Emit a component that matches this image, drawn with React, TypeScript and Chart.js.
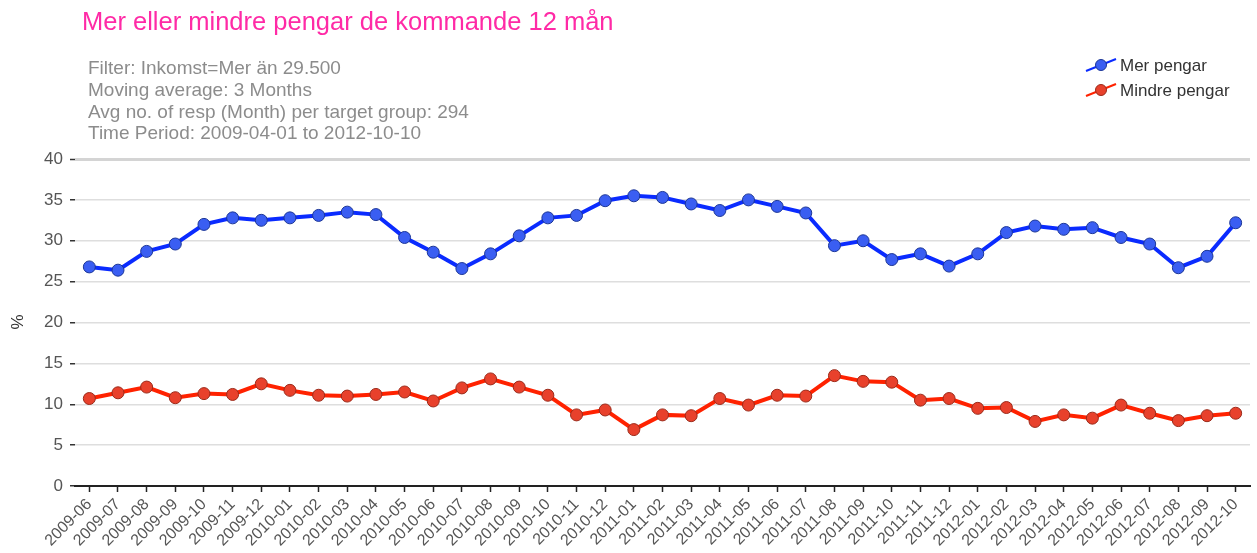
import React, { useEffect, useRef } from "react";
import { Chart, registerables } from "chart.js";

Chart.register(...registerables);

const months = [
  "2009-06", "2009-07", "2009-08", "2009-09", "2009-10", "2009-11", "2009-12",
  "2010-01", "2010-02", "2010-03", "2010-04", "2010-05", "2010-06", "2010-07",
  "2010-08", "2010-09", "2010-10", "2010-11", "2010-12",
  "2011-01", "2011-02", "2011-03", "2011-04", "2011-05", "2011-06", "2011-07",
  "2011-08", "2011-09", "2011-10", "2011-11", "2011-12",
  "2012-01", "2012-02", "2012-03", "2012-04", "2012-05", "2012-06", "2012-07",
  "2012-08", "2012-09", "2012-10",
];

const merPengar = [
  26.8, 26.4, 28.7, 29.6, 32.0, 32.8, 32.5, 32.8, 33.1, 33.5, 33.2, 30.4,
  28.6, 26.6, 28.4, 30.6, 32.8, 33.1, 34.9, 35.5, 35.3, 34.5, 33.7, 35.0,
  34.2, 33.4, 29.4, 30.0, 27.7, 28.4, 26.9, 28.4, 31.0, 31.8, 31.4, 31.6,
  30.4, 29.6, 26.7, 28.1, 32.2,
];

const mindrePengar = [
  10.7, 11.4, 12.1, 10.8, 11.3, 11.2, 12.5, 11.7, 11.1, 11.0, 11.2, 11.5,
  10.4, 12.0, 13.1, 12.1, 11.1, 8.7, 9.3, 6.9, 8.7, 8.6, 10.7, 9.9, 11.1,
  11.0, 13.5, 12.8, 12.7, 10.5, 10.7, 9.5, 9.6, 7.9, 8.7, 8.3, 9.9, 8.9,
  8.0, 8.6, 8.9,
];

const seriesNames = ["Mer pengar", "Mindre pengar"];
const yMin = 0;
const yMax = 40;
const yStep = 5;
const yAxisTitle = "%";

const titleText = "Mer eller mindre pengar de kommande 12 mån";
const subtitleLines = [
  "Filter: Inkomst=Mer än 29.500",
  "Moving average: 3 Months",
  "Avg no. of resp (Month) per target group: 294",
  "Time Period: 2009-04-01 to 2012-10-10",
];

const FONT = "'Liberation Sans', Arial, sans-serif";

const BLUE = { line: "#0a2bff", fill: "#3a5ef2", border: "#1c3696" };
const RED = { line: "#ff2200", fill: "#e8412c", border: "#9a2a1a" };

const decorPlugin = {
  id: "decor",
  afterDraw(chart: any) {
    const ctx = chart.ctx as CanvasRenderingContext2D;
    ctx.save();
    // Title
    ctx.textBaseline = "middle";
    ctx.textAlign = "left";
    ctx.fillStyle = "#ff2aa6";
    ctx.font = `25.5px ${FONT}`;
    ctx.fillText(titleText, 82, 23);
    // Subtitle
    ctx.fillStyle = "#8c8c8c";
    ctx.font = `19px ${FONT}`;
    subtitleLines.forEach((l, i) => ctx.fillText(l, 88, 69 + i * 21.7));
    // Y axis title
    ctx.save();
    ctx.translate(18, 322);
    ctx.rotate(-Math.PI / 2);
    ctx.textAlign = "center";
    ctx.fillStyle = "#333";
    ctx.font = `17px ${FONT}`;
    ctx.fillText(yAxisTitle, 0, 0);
    ctx.restore();
    // Legend
    const cols = [BLUE, RED];
    seriesNames.forEach((name, i) => {
      const cx = 1101;
      const cy = 65 + i * 25;
      const c = cols[i];
      ctx.strokeStyle = c.line;
      ctx.lineWidth = 2;
      ctx.beginPath();
      ctx.moveTo(cx - 15, cy + 6);
      ctx.lineTo(cx + 15, cy - 6);
      ctx.stroke();
      ctx.beginPath();
      ctx.arc(cx, cy, 5.5, 0, Math.PI * 2);
      ctx.fillStyle = c.fill;
      ctx.fill();
      ctx.lineWidth = 1;
      ctx.strokeStyle = c.border;
      ctx.stroke();
      ctx.fillStyle = "#333";
      ctx.font = `17px ${FONT}`;
      ctx.textAlign = "left";
      ctx.fillText(name, 1120, cy + 1);
    });
    ctx.restore();
  },
};

export default function App() {
  const ref = useRef<HTMLCanvasElement | null>(null);

  useEffect(() => {
    if (!ref.current) return;
    const chart = new Chart(ref.current, {
      type: "line",
      data: {
        labels: months,
        datasets: [
          {
            label: seriesNames[0],
            data: merPengar,
            borderColor: BLUE.line,
            borderWidth: 4,
            pointRadius: 6,
            pointBorderWidth: 1,
            pointBackgroundColor: BLUE.fill,
            pointBorderColor: BLUE.border,
            tension: 0,
          },
          {
            label: seriesNames[1],
            data: mindrePengar,
            borderColor: RED.line,
            borderWidth: 4,
            pointRadius: 6,
            pointBorderWidth: 1,
            pointBackgroundColor: RED.fill,
            pointBorderColor: RED.border,
            tension: 0,
          },
        ],
      },
      options: {
        animation: false,
        responsive: true,
        maintainAspectRatio: false,
        layout: { padding: { top: 159, right: 1, left: 0, bottom: 0 } },
        plugins: {
          legend: { display: false },
          title: { display: false },
          tooltip: { enabled: false },
        },
        scales: {
          x: {
            offset: true,
            afterFit(scale: any) {
              scale.height = 67;
            },
            grid: {
              display: true,
              drawOnChartArea: false,
              drawTicks: true,
              tickLength: 6,
              tickColor: "#222",
              tickWidth: 1.5,
              offset: false,
            },
            border: { display: true, color: "#222", width: 2 },
            ticks: {
              autoSkip: false,
              minRotation: 45,
              maxRotation: 45,
              color: "#555",
              padding: 3,
              font: { family: FONT, size: 16 },
            },
          },
          y: {
            min: yMin,
            max: yMax,
            afterFit(scale: any) {
              scale.width = 75;
            },
            ticks: {
              stepSize: yStep,
              color: "#555",
              padding: 7,
              font: { family: FONT, size: 17 },
            },
            grid: {
              color: (c: any) => (c.tick && c.tick.value === yMax ? "#d4d4d4" : "#dedede"),
              lineWidth: (c: any) => (c.tick && c.tick.value === yMax ? 3 : 1.5),
              tickColor: "#333",
              tickWidth: 1.5,
              tickLength: 5,
              drawTicks: true,
            },
            border: { display: false },
          },
        },
      },
      plugins: [decorPlugin],
    });
    return () => chart.destroy();
  }, []);

  return (
    <div style={{ position: "absolute", left: 0, top: 0, width: 1257, height: 553, background: "#fff" }}>
      <canvas ref={ref} />
    </div>
  );
}
